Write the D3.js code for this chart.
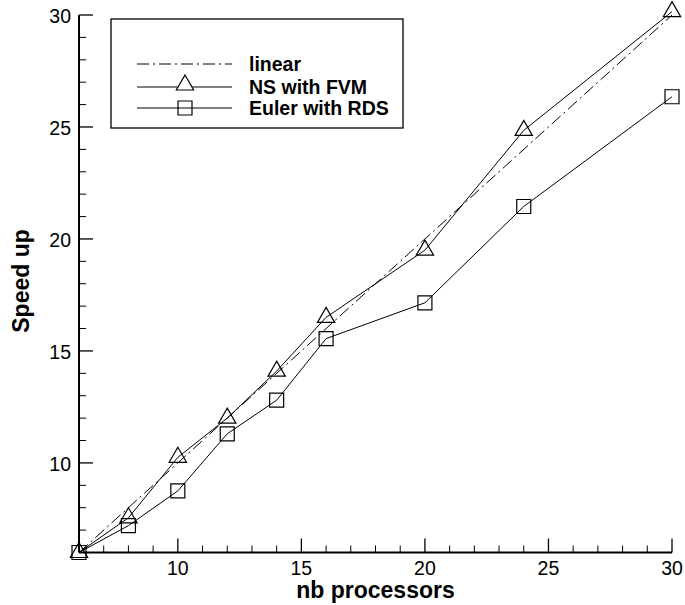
<!DOCTYPE html>
<html><head><meta charset="utf-8">
<script src="https://cdn.jsdelivr.net/npm/d3@7"></script>
<style>
body{margin:0;background:#fff;}
text{font-family:"Liberation Sans",Arial,sans-serif;}
</style></head>
<body>
<svg id="chart" width="685" height="605"></svg>
<script>
const procs = [6, 8, 10, 12, 14, 16, 20, 24, 30];
const linearSpeed = [6, 30];
const linearProcs = [6, 30];
const nsFVM = [6, 7.55, 10.25, 12.0, 14.1, 16.5, 19.5, 24.85, 30.15];
const eulerRDS = [6, 7.2, 8.75, 11.3, 12.8, 15.55, 17.15, 21.45, 26.35];
const xTicks = [10, 15, 20, 25, 30];
const yTicks = [10, 15, 20, 25, 30];
const seriesNames = ["linear", "NS with FVM", "Euler with RDS"];

const svg = d3.select("#chart");
const x = d3.scaleLinear().domain([6, 30]).range([79, 672]);
const y = d3.scaleLinear().domain([6, 30]).range([552.5, 15]);

// axes
const gx = svg.append("g").attr("transform", "translate(0,552.5)");
gx.append("line").attr("x1", x(6)).attr("x2", x(30)).attr("stroke", "#000").attr("stroke-width", 2);
const xMinor = d3.range(7, 31).filter(v => !xTicks.includes(v));
gx.selectAll("line.mi").data(xMinor).join("line").attr("class", "mi")
  .attr("x1", d => x(d)).attr("x2", d => x(d)).attr("y1", 0).attr("y2", -7).attr("stroke", "#000").attr("stroke-width", 1);
gx.selectAll("line.ma").data(xTicks).join("line").attr("class", "ma")
  .attr("x1", d => x(d)).attr("x2", d => x(d)).attr("y1", 0).attr("y2", -14).attr("stroke", "#000").attr("stroke-width", 1.3);
gx.selectAll("text").data(xTicks).join("text")
  .attr("x", d => x(d)).attr("y", 22).attr("text-anchor", "middle")
  .attr("font-size", 19.5).text(d => d);

const gy = svg.append("g").attr("transform", "translate(79,0)");
gy.append("line").attr("y1", y(6)).attr("y2", y(30)).attr("stroke", "#000").attr("stroke-width", 2);
const yMinor = d3.range(7, 31).filter(v => !yTicks.includes(v));
gy.selectAll("line.mi").data(yMinor).join("line").attr("class", "mi")
  .attr("y1", d => y(d)).attr("y2", d => y(d)).attr("x1", 0).attr("x2", 7).attr("stroke", "#000").attr("stroke-width", 1);
gy.selectAll("line.ma").data(yTicks).join("line").attr("class", "ma")
  .attr("y1", d => y(d)).attr("y2", d => y(d)).attr("x1", 0).attr("x2", 14).attr("stroke", "#000").attr("stroke-width", 1.3);
gy.selectAll("text").data(yTicks).join("text")
  .attr("x", -8).attr("y", d => y(d) + 8).attr("text-anchor", "end")
  .attr("font-size", 19.5).text(d => d);

// titles
svg.append("text").attr("x", 375.5).attr("y", 598).attr("text-anchor", "middle")
  .attr("font-size", 23).attr("font-weight", "bold").text("nb processors");
svg.append("text").attr("transform", "translate(29,281) rotate(-90)").attr("text-anchor", "middle")
  .attr("font-size", 23).attr("font-weight", "bold").text("Speed up");

// lines
const line = d3.line().x(d => x(d[0])).y(d => y(d[1]));
svg.append("path").datum(linearProcs.map((p, i) => [p, linearSpeed[i]]))
  .attr("d", line).attr("fill", "none").attr("stroke", "#000").attr("stroke-width", 1)
  .attr("stroke-dasharray", "12,4,2,4");
const nsData = procs.map((p, i) => [p, nsFVM[i]]);
const euData = procs.map((p, i) => [p, eulerRDS[i]]);
svg.append("path").datum(nsData).attr("d", line).attr("fill", "none").attr("stroke", "#000").attr("stroke-width", 1);
svg.append("path").datum(euData).attr("d", line).attr("fill", "none").attr("stroke", "#000").attr("stroke-width", 1);

const tri = d3.symbol().type(d3.symbolTriangle).size(130);
const sq = d3.symbol().type(d3.symbolSquare).size(196);
svg.selectAll("path.tri").data(nsData).join("path").attr("class", "tri")
  .attr("transform", d => `translate(${x(d[0])},${y(d[1])})`).attr("d", tri)
  .attr("fill", "none").attr("stroke", "#000").attr("stroke-width", 1.2);
svg.selectAll("path.sq").data(euData).join("path").attr("class", "sq")
  .attr("transform", d => `translate(${x(d[0])},${y(d[1])})`).attr("d", sq)
  .attr("fill", "none").attr("stroke", "#000").attr("stroke-width", 1.2);

// legend
const lg = svg.append("g");
lg.append("rect").attr("x", 111).attr("y", 19).attr("width", 292).attr("height", 109)
  .attr("fill", "#fff").attr("stroke", "#000").attr("stroke-width", 1.3);
const rows = [64, 87, 108];
seriesNames.forEach((name, i) => {
  const ly = rows[i];
  const l = lg.append("line").attr("x1", 137).attr("x2", 232).attr("y1", ly).attr("y2", ly)
    .attr("stroke", "#000").attr("stroke-width", 1);
  if (i === 0) l.attr("stroke-dasharray", "12,4,2,4");
  if (i === 1) lg.append("path").attr("transform", `translate(185,${ly - 2})`).attr("d", tri)
    .attr("fill", "#fff").attr("stroke", "#000").attr("stroke-width", 1.2);
  if (i === 2) lg.append("path").attr("transform", `translate(185,${ly})`).attr("d", sq)
    .attr("fill", "none").attr("stroke", "#000").attr("stroke-width", 1.2);
  lg.append("text").attr("x", 249).attr("y", ly + 7).attr("font-size", 19.5).attr("font-weight", "bold").text(name);
});
</script>
</body></html>
